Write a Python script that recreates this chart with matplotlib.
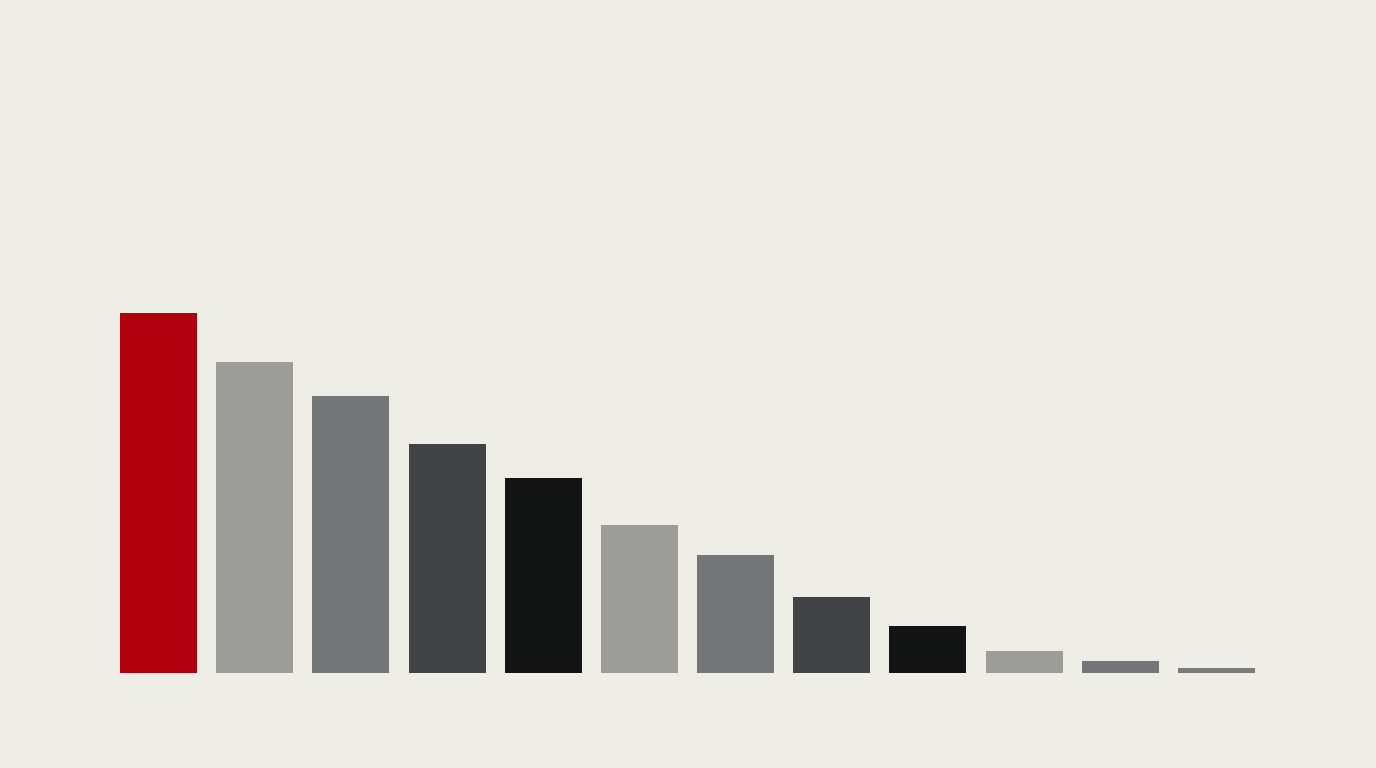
import matplotlib
matplotlib.use("Agg")
import matplotlib.pyplot as plt

categories = list(range(12))
values = [360, 311, 277, 229, 195, 148, 118, 76, 47, 22, 12, 5]
colors = ["#B0000E", "#9C9D99", "#737676", "#414444", "#131514",
          "#9C9D99", "#737676", "#414444", "#131514",
          "#9C9D99", "#737676", "#7A7C7B"]

bg = "#EFEEE6"
fig = plt.figure(figsize=(13.76, 7.68), dpi=100, facecolor=bg)
ax = fig.add_axes([0, 0, 1, 1])
ax.set_facecolor(bg)
ax.bar(categories, values, width=0.8, color=colors, linewidth=0)
ppu = 96.18
ax.set_xlim(-158.5 / ppu, (1376 - 158.5) / ppu)
ax.set_ylim(-95, 673)
ax.axis("off")
fig.savefig("out.png", dpi=100, facecolor=bg)
